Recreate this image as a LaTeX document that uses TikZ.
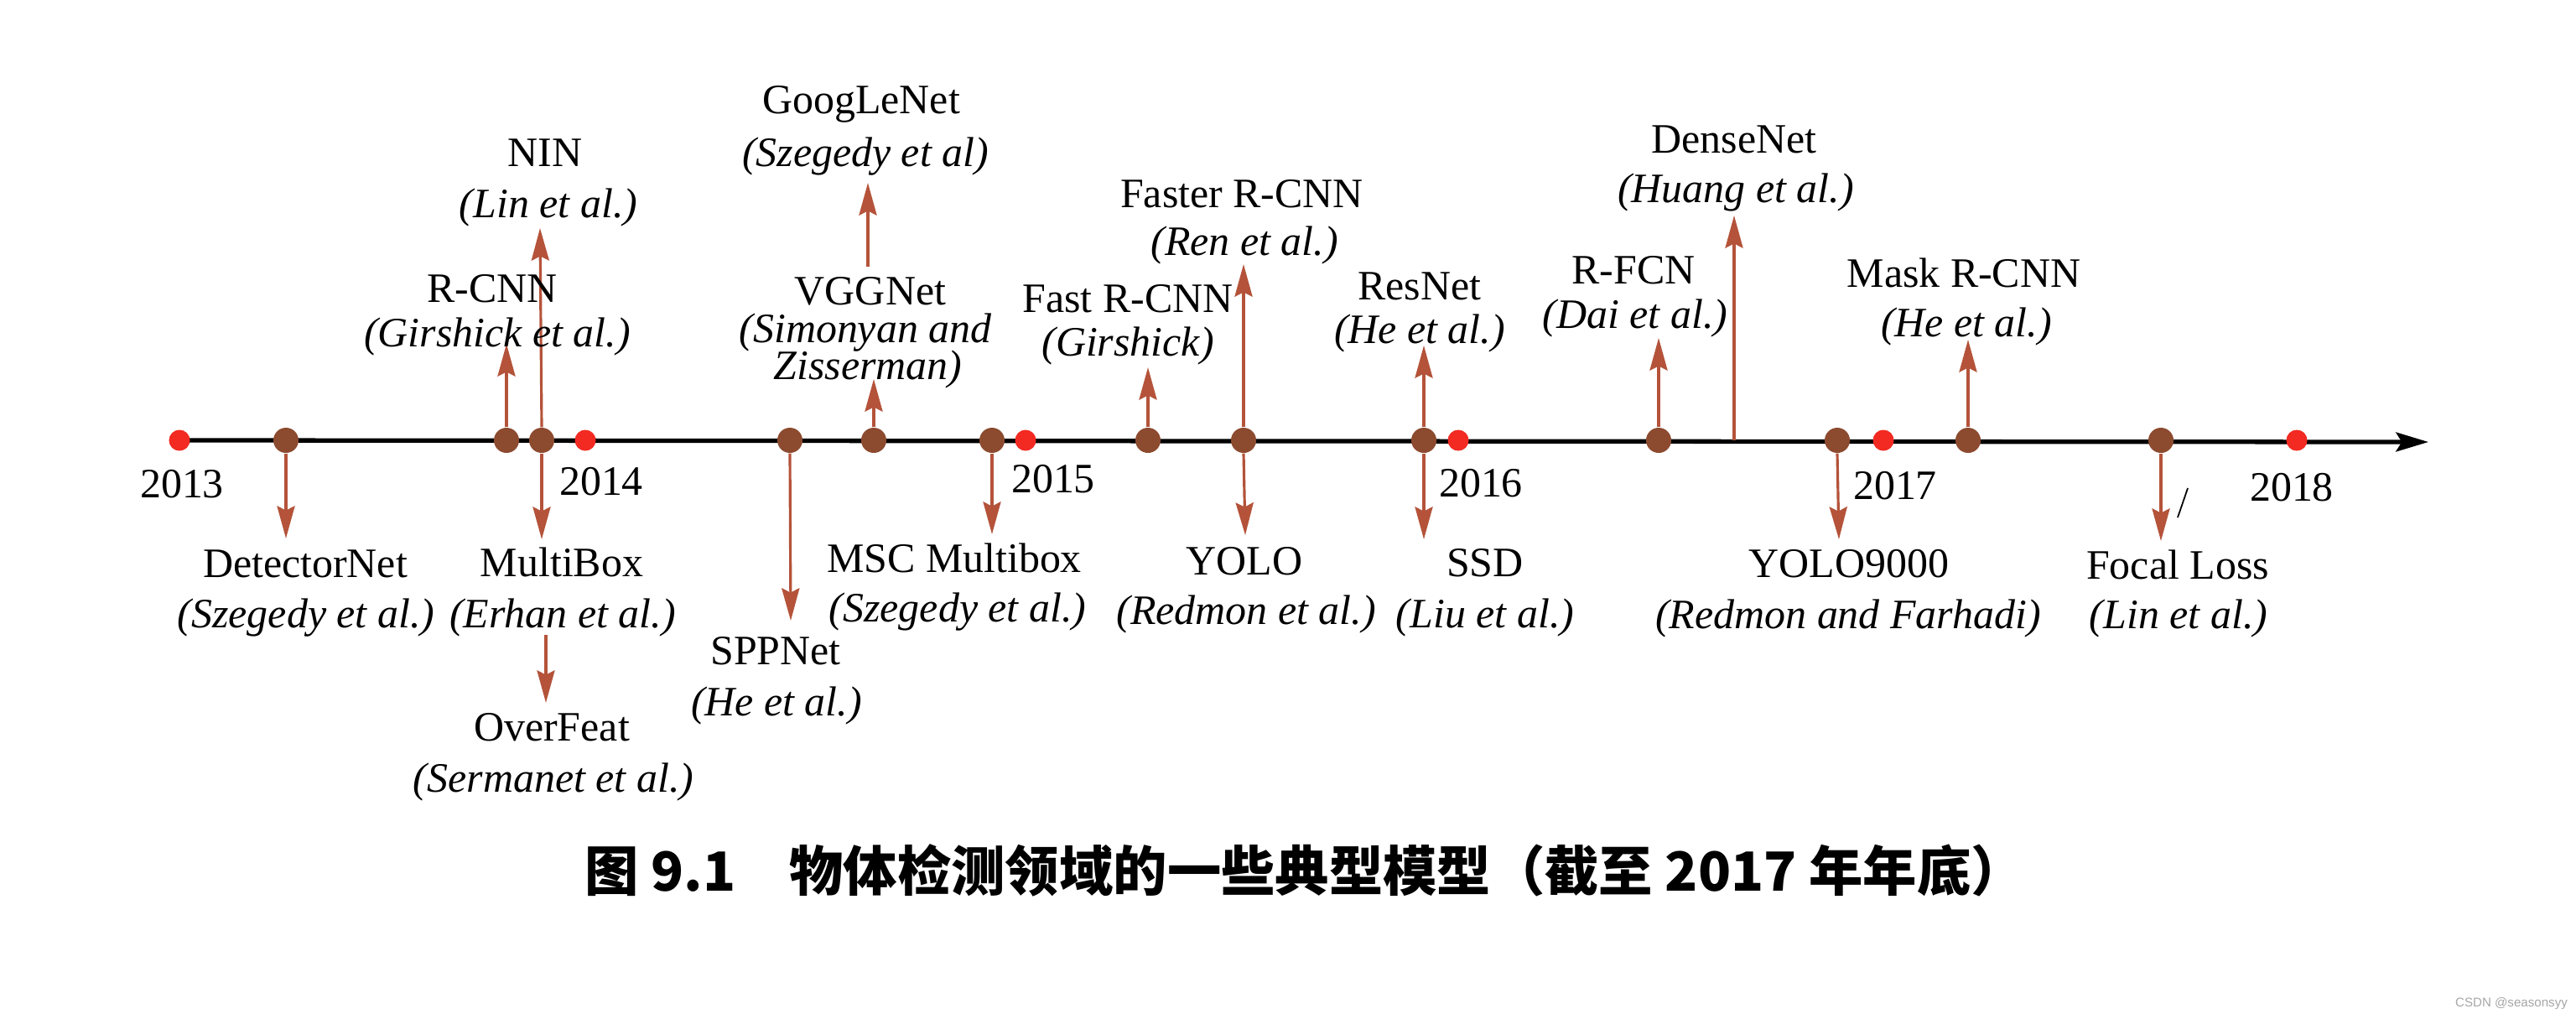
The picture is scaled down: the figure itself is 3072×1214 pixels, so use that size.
\documentclass[tikz,border=0pt]{standalone}
\usepackage{fontspec}
\setmainfont{Liberation Serif}
\newfontfamily\cjk{Noto Sans CJK SC}
\newfontfamily\wmfont{Liberation Sans}
\usetikzlibrary{arrows.meta}
\definecolor{dotbrown}{HTML}{8C4A2F}
\definecolor{dotred}{HTML}{F22A22}
\definecolor{arrcol}{HTML}{B4533A}
\begin{document}
\begin{tikzpicture}[x=0.01cm,y=-0.01cm,
  evt/.style={circle,fill=dotbrown,minimum size=0.30cm,inner sep=0pt},
  yr/.style={circle,fill=dotred,minimum size=0.25cm,inner sep=0pt},
  arr/.style={draw=arrcol,line width=0.9pt,-{Stealth[length=11pt,width=6pt,inset=1.5pt]}},
  nm/.style={anchor=base,inner sep=0pt,font=\fontsize{14.2pt}{17pt}\selectfont},
  au/.style={anchor=base,inner sep=0pt,font=\fontsize{14.2pt}{17pt}\selectfont\itshape},
  yl/.style={anchor=base,inner sep=0pt,font=\fontsize{14.2pt}{17pt}\selectfont}]
\useasboundingbox (0,0) rectangle (3072,1214);
% timeline
\coordinate (tl0) at (214,525);
\coordinate (tl1) at (2896,527);
\draw[line width=1.5pt,-{Stealth[length=11pt,width=6.5pt,inset=2pt]}] (tl0) -- (tl1);
% year dots
\node[yr] (y13) at (214,525) {};
\node[yr] (y14) at (698,525) {};
\node[yr] (y15) at (1223,525) {};
\node[yr] (y16) at (1739,525) {};
\node[yr] (y17) at (2246,525) {};
\node[yr] (y18) at (2739,525) {};
% year labels
\node[yl] (l13) at (217,593) {2013};
\node[yl] (l14) at (717,590) {2014};
\node[yl] (l15) at (1256,587) {2015};
\node[yl] (l16) at (1766,592) {2016};
\node[yl] (l17) at (2260,595) {2017};
\node[yl] (l18) at (2733,597) {2018};
% event dots
\node[evt] (e1) at (341,525) {};
\node[evt] (e2) at (604,525) {};
\node[evt] (e3) at (646,525) {};
\node[evt] (e4) at (942,525) {};
\node[evt] (e5) at (1042,525) {};
\node[evt] (e6) at (1183,525) {};
\node[evt] (e7) at (1369,525) {};
\node[evt] (e8) at (1483,525) {};
\node[evt] (e9) at (1698,525) {};
\node[evt] (e10) at (1978,525) {};
\coordinate (dn) at (2068,525);
\node[evt] (e11) at (2191,525) {};
\node[evt] (e12) at (2347,525) {};
\node[evt] (e13) at (2577,525) {};
% arrow ends
\coordinate (t1) at (341,642);
\coordinate (t2) at (604,410);
\coordinate (t3u) at (644,272);
\coordinate (t3d) at (646,643);
\coordinate (ofs) at (651,757);
\coordinate (oft) at (651,838);
\coordinate (t4) at (943,740);
\coordinate (t5) at (1042,452);
\coordinate (gls) at (1035,318);
\coordinate (glt) at (1035,218);
\coordinate (t6) at (1183,637);
\coordinate (t7) at (1369,438);
\coordinate (t8u) at (1483,315);
\coordinate (t8d) at (1485,638);
\coordinate (t9u) at (1698,412);
\coordinate (t9d) at (1698,643);
\coordinate (t10) at (1978,403);
\coordinate (tdn) at (2068,257);
\coordinate (t11) at (2193,643);
\coordinate (t12) at (2347,405);
\coordinate (t13) at (2577,645);
% arrows
\draw[arr] (e1.south) -- (t1);
\draw[arr] (e2.north) -- (t2);
\draw[arr] (e3.north) -- (t3u);
\draw[arr] (e3.south) -- (t3d);
\draw[arr] (ofs) -- (oft);
\draw[arr] (e4.south) -- (t4);
\draw[arr] (e5.north) -- (t5);
\draw[arr] (gls) -- (glt);
\draw[arr] (e6.south) -- (t6);
\draw[arr] (e7.north) -- (t7);
\draw[arr] (e8.north) -- (t8u);
\draw[arr] (e8.south) -- (t8d);
\draw[arr] (e9.north) -- (t9u);
\draw[arr] (e9.south) -- (t9d);
\draw[arr] (e10.north) -- (t10);
\draw[arr] (dn) -- (tdn);
\draw[arr] (e11.south) -- (t11);
\draw[arr] (e12.north) -- (t12);
\draw[arr] (e13.south) -- (t13);
% stray mark
\coordinate (sm0) at (2609,582);
\coordinate (sm1) at (2597,617);
\draw[line width=0.5pt] (sm0) -- (sm1);
% labels above
\node[nm] (googlenet) at (1027,135) {GoogLeNet};
\node[au] (googlenetA) at (1032,198) {(Szegedy et al)};
\node[nm] (nin) at (650,198) {NIN};
\node[au] (ninA) at (654,259) {(Lin et al.)};
\node[nm] (rcnn) at (587,360) {R-CNN};
\node[au] (rcnnA) at (593,413) {(Girshick et al.)};
\node[nm] (vgg) at (1038,363) {VGGNet};
\node[au] (vggA) at (1032,408) {(Simonyan and};
\node[au] (vggB) at (1035,452) {Zisserman)};
\node[nm] (fast) at (1345,372) {Fast R-CNN};
\node[au] (fastA) at (1345,424) {(Girshick)};
\node[nm] (faster) at (1481,247) {Faster R-CNN};
\node[au] (fasterA) at (1484,304) {(Ren et al.)};
\node[nm] (resnet) at (1693,357) {ResNet};
\node[au] (resnetA) at (1693,409) {(He et al.)};
\node[nm] (rfcn) at (1948,338) {R-FCN};
\node[au] (rfcnA) at (1950,391) {(Dai et al.)};
\node[nm] (densenet) at (2068,182) {DenseNet};
\node[au] (densenetA) at (2070,241) {(Huang et al.)};
\node[nm] (mask) at (2342,342) {Mask R-CNN};
\node[au] (maskA) at (2345,401) {(He et al.)};
% labels below
\node[nm] (detnet) at (364,688) {DetectorNet};
\node[au] (detnetA) at (365,748) {(Szegedy et al.)};
\node[nm] (multibox) at (670,687) {MultiBox};
\node[au] (multiboxA) at (671,748) {(Erhan et al.)};
\node[nm] (overfeat) at (658,883) {OverFeat};
\node[au] (overfeatA) at (660,944) {(Sermanet et al.)};
\node[nm] (spp) at (925,792) {SPPNet};
\node[au] (sppA) at (926,853) {(He et al.)};
\node[nm] (msc) at (1138,682) {MSC Multibox};
\node[au] (mscA) at (1142,741) {(Szegedy et al.)};
\node[nm] (yolo) at (1484,685) {YOLO};
\node[au] (yoloA) at (1486,744) {(Redmon et al.)};
\node[nm] (ssd) at (1771,687) {SSD};
\node[au] (ssdA) at (1771,748) {(Liu et al.)};
\node[nm] (yolo9k) at (2205,688) {YOLO9000};
\node[au] (yolo9kA) at (2204,749) {(Redmon and Farhadi)};
\node[nm] (focal) at (2597,690) {Focal Loss};
\node[au] (focalA) at (2598,749) {(Lin et al.)};
% caption
\node[anchor=base,inner sep=0pt,font=\cjk\bfseries\fontsize{18.3pt}{21pt}\selectfont] (cap) at (1556,1062)
  {图 9.1\hspace{1em}物体检测领域的一些典型模型（截至 2017 年年底）};
% watermark
\node[inner sep=0pt,text=gray!70,font=\wmfont\fontsize{4.3pt}{5pt}\selectfont] (wm) at (2995,1197) {CSDN @seasonsyy};
\end{tikzpicture}
\end{document}
